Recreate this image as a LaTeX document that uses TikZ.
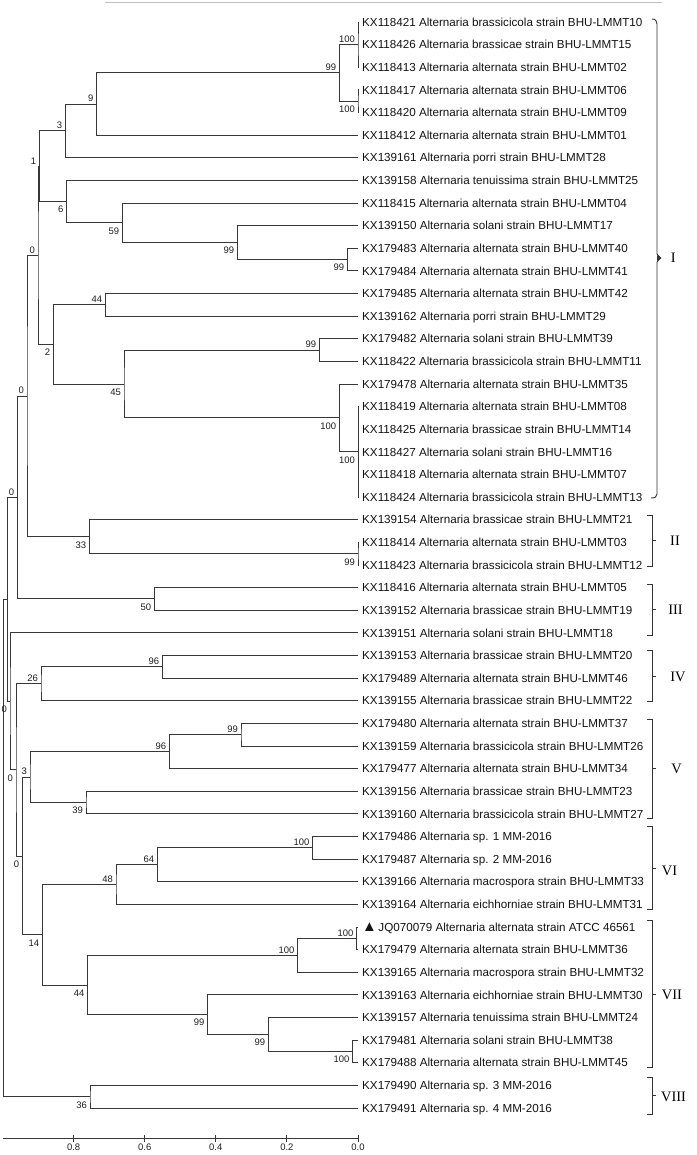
\documentclass[tikz,border=0pt]{standalone}
\usepackage{fontspec}
\setmainfont{Liberation Sans}
\newfontfamily\clfont{Liberation Serif}
\usetikzlibrary{calc}
\tikzset{
  br/.style={draw=black!78, line width=0.9bp},
  brk/.style={draw=black!80, line width=0.9bp},
  leaf/.style={anchor=base west, inner sep=0pt, font=\fontsize{11.7}{13}\selectfont, text=black!92},
  bsa/.style={anchor=south east, inner sep=0pt, font=\fontsize{9.5}{10}\selectfont, xshift=-3bp, yshift=2bp, text=black!88},
  bsb/.style={anchor=north east, inner sep=0pt, font=\fontsize{9.5}{10}\selectfont, xshift=-3bp, yshift=-4.5bp, text=black!88},
  clab/.style={inner sep=0pt, font=\clfont\fontsize{14.5}{16}\selectfont},
  axlab/.style={inner sep=0pt, font=\fontsize{9.5}{10}\selectfont, text=black!88},
}
\newcommand\lf[2]{%
  \pgfmathsetmacro\yy{22+(#1-1)*22.625}
  \coordinate (l#1) at (358,\yy);
  \node[leaf] (t#1) at (362,\yy+4.2) {#2};}
\newcommand\inode[4]{%
  \path let \p1=($(#3)!0.5!(#4)$) in coordinate (#1) at (#2bp,\y1);
  \draw[br] (#3) -| (#1) |- (#4);}
\newcommand\bs[3]{\node[bs#2] (b#1) at (#1) {#3};}
\newcommand\sqbr[6]{% name, ytop, ybot, label, labelx, labely
  \coordinate (#1t) at (646.7,#2);
  \coordinate (#1b) at (646.7,#3);
  \coordinate (#1m) at (652.3,{(#2+#3)/2});
  \draw[brk] (#1t) -- ++(5.6,0) -- ($(#1b)+(5.6,0)$) -- (#1b);
  \draw[brk] (#1m) -- ++(3.8,0);
  \node[clab] (#1l) at (#5,#6) {#4};}
\begin{document}
\begin{tikzpicture}[x=1bp,y=-1bp]
\fill[white] (0,0) rectangle (697,1155);
\useasboundingbox (0,0) rectangle (697,1155);
% top rule
\coordinate (topa) at (105,2.3);
\coordinate (topb) at (662,2.3);
\draw[draw=black!25, line width=0.8bp] (topa) -- (topb);
% leaves
\lf{1}{KX118421 Alternaria brassicicola strain BHU-LMMT10}
\lf{2}{KX118426 Alternaria brassicae strain BHU-LMMT15}
\lf{3}{KX118413 Alternaria alternata strain BHU-LMMT02}
\lf{4}{KX118417 Alternaria alternata strain BHU-LMMT06}
\lf{5}{KX118420 Alternaria alternata strain BHU-LMMT09}
\lf{6}{KX118412 Alternaria alternata strain BHU-LMMT01}
\lf{7}{KX139161 Alternaria porri strain BHU-LMMT28}
\lf{8}{KX139158 Alternaria tenuissima strain BHU-LMMT25}
\lf{9}{KX118415 Alternaria alternata strain BHU-LMMT04}
\lf{10}{KX139150 Alternaria solani strain BHU-LMMT17}
\lf{11}{KX179483 Alternaria alternata strain BHU-LMMT40}
\lf{12}{KX179484 Alternaria alternata strain BHU-LMMT41}
\lf{13}{KX179485 Alternaria alternata strain BHU-LMMT42}
\lf{14}{KX139162 Alternaria porri strain BHU-LMMT29}
\lf{15}{KX179482 Alternaria solani strain BHU-LMMT39}
\lf{16}{KX118422 Alternaria brassicicola strain BHU-LMMT11}
\lf{17}{KX179478 Alternaria alternata strain BHU-LMMT35}
\lf{18}{KX118419 Alternaria alternata strain BHU-LMMT08}
\lf{19}{KX118425 Alternaria brassicae strain BHU-LMMT14}
\lf{20}{KX118427 Alternaria solani strain BHU-LMMT16}
\lf{21}{KX118418 Alternaria alternata strain BHU-LMMT07}
\lf{22}{KX118424 Alternaria brassicicola strain BHU-LMMT13}
\lf{23}{KX139154 Alternaria brassicae strain BHU-LMMT21}
\lf{24}{KX118414 Alternaria alternata strain BHU-LMMT03}
\lf{25}{KX118423 Alternaria brassicicola strain BHU-LMMT12}
\lf{26}{KX118416 Alternaria alternata strain BHU-LMMT05}
\lf{27}{KX139152 Alternaria brassicae strain BHU-LMMT19}
\lf{28}{KX139151 Alternaria solani strain BHU-LMMT18}
\lf{29}{KX139153 Alternaria brassicae strain BHU-LMMT20}
\lf{30}{KX179489 Alternaria alternata strain BHU-LMMT46}
\lf{31}{KX139155 Alternaria brassicae strain BHU-LMMT22}
\lf{32}{KX179480 Alternaria alternata strain BHU-LMMT37}
\lf{33}{KX139159 Alternaria brassicicola strain BHU-LMMT26}
\lf{34}{KX179477 Alternaria alternata strain BHU-LMMT34}
\lf{35}{KX139156 Alternaria brassicae strain BHU-LMMT23}
\lf{36}{KX139160 Alternaria brassicicola strain BHU-LMMT27}
\lf{37}{KX179486 Alternaria sp. 1 MM-2016}
\lf{38}{KX179487 Alternaria sp. 2 MM-2016}
\lf{39}{KX139166 Alternaria macrospora strain BHU-LMMT33}
\lf{40}{KX139164 Alternaria eichhorniae strain BHU-LMMT31}
\lf{41}{{\fontsize{15}{15}\selectfont ▲}\hspace{1.5bp}JQ070079 Alternaria alternata strain ATCC 46561}
\lf{42}{KX179479 Alternaria alternata strain BHU-LMMT36}
\lf{43}{KX139165 Alternaria macrospora strain BHU-LMMT32}
\lf{44}{KX139163 Alternaria eichhorniae strain BHU-LMMT30}
\lf{45}{KX139157 Alternaria tenuissima strain BHU-LMMT24}
\lf{46}{KX179481 Alternaria solani strain BHU-LMMT38}
\lf{47}{KX179488 Alternaria alternata strain BHU-LMMT45}
\lf{48}{KX179490 Alternaria sp. 3 MM-2016}
\lf{49}{KX179491 Alternaria sp. 4 MM-2016}
% clade I
\inode{pa}{358}{l1}{l3}
\draw[br] (pa) |- (l2);
\inode{pb}{358}{l4}{l5}
\inode{nA}{339.3}{pa}{pb}
\inode{nB}{96.7}{nA}{l6}
\inode{nC}{65.3}{nB}{l7}
\inode{nD}{347.3}{l11}{l12}
\inode{nE}{237.3}{l10}{nD}
\inode{nF}{122.3}{l9}{nE}
\inode{nG}{66.7}{l8}{nF}
\inode{nH}{39.3}{nC}{nG}
\inode{nI}{105.3}{l13}{l14}
\inode{nJ}{319.3}{l15}{l16}
\inode{pc}{358}{l18}{l22}
\draw[br] (pc) |- (l19) (pc) |- (l20) (pc) |- (l21);
\inode{nK}{339.3}{l17}{pc}
\inode{nL}{124}{nJ}{nK}
\inode{nM}{53.3}{nI}{nL}
\inode{nN}{38}{nH}{nM}
% clade II
\inode{nO}{358}{l24}{l25}
\inode{nP}{89.3}{l23}{nO}
\inode{nQ}{27}{nN}{nP}
% clade III
\inode{nR}{154.3}{l26}{l27}
\inode{nS}{17.3}{nQ}{nR}
% clade IV
\inode{nT}{162.3}{l29}{l30}
\inode{nU}{41}{nT}{l31}
% clade V
\inode{nV}{241}{l32}{l33}
\inode{nW}{169.3}{nV}{l34}
\inode{nX}{86}{l35}{l36}
\inode{nY}{30}{nW}{nX}
% clade VI
\inode{nZ}{312.7}{l37}{l38}
\inode{mA}{157.3}{nZ}{l39}
\inode{mB}{116}{mA}{l40}
% clade VII
\inode{mC}{356.7}{l41}{l42}
\inode{mD}{297.7}{mC}{l43}
\inode{mE}{352.7}{l46}{l47}
\inode{mF}{268.3}{l45}{mE}
\inode{mG}{207.7}{l44}{mF}
\inode{mH}{87.7}{mD}{mG}
\inode{mI}{42.3}{mB}{mH}
% backbone
\inode{mJ}{22.3}{nY}{mI}
\inode{mK}{16}{nU}{mJ}
\inode{mL}{10}{l28}{mK}
\inode{mM}{7.3}{nS}{mL}
\inode{mN}{90}{l48}{l49}
\inode{root}{3.3}{mM}{mN}
% bootstrap values
\bs{pa}{a}{100}
\bs{pb}{b}{100}
\bs{nA}{a}{99}
\bs{nB}{a}{9}
\bs{nC}{a}{3}
\bs{nD}{b}{99}
\bs{nE}{b}{99}
\bs{nF}{b}{59}
\bs{nG}{b}{6}
\bs{nH}{a}{1}
\bs{nI}{a}{44}
\bs{nJ}{a}{99}
\bs{pc}{b}{100}
\bs{nK}{b}{100}
\bs{nL}{b}{45}
\bs{nM}{b}{2}
\bs{nN}{a}{0}
\bs{nO}{b}{99}
\bs{nP}{b}{33}
\bs{nQ}{a}{0}
\bs{nR}{b}{50}
\bs{nS}{a}{0}
\bs{nT}{a}{96}
\bs{nU}{a}{26}
\bs{nV}{a}{99}
\bs{nW}{a}{96}
\bs{nX}{b}{39}
\bs{nY}{a}{3}
\bs{nZ}{a}{100}
\bs{mA}{a}{64}
\bs{mB}{a}{48}
\bs{mC}{a}{100}
\bs{mD}{a}{100}
\bs{mE}{b}{100}
\bs{mF}{b}{99}
\bs{mG}{b}{99}
\bs{mH}{b}{44}
\bs{mI}{b}{14}
\bs{mJ}{b}{0}
\bs{mK}{b}{0}
\bs{mL}{b}{0}
\bs{mN}{b}{36}
% scale axis
\coordinate (ax0) at (3.3,1138.5);
\coordinate (ax1) at (358,1138.5);
\draw[br] (ax0) -- (ax1);
\foreach \v/\t [count=\i] in {0/0.0,1/0.2,2/0.4,3/0.6,4/0.8}{
  \coordinate (tk\i) at ({358-\v*71.1},1138.5);
  \draw[br] ($(tk\i)+(0,-4)$) -- ($(tk\i)+(0,3)$);
  \node[axlab] (tl\i) at ($(tk\i)+(0,9)$) {\t};
}
% clade I brace
\coordinate (bIa) at (652,19);
\coordinate (bIb) at (651,498);
\draw[brk] (bIa) .. controls (655.5,19) and (657,21) .. (657,24) -- (657,254) -- (660.5,258) -- (657,262) -- (657,494) .. controls (657,497) and (655,498) .. (bIb);
\fill[black!80] (657,255) -- (661.5,258) -- (657,261) -- cycle;
\node[clab] (cI) at (673.3,258) {I};
% other clades
\sqbr{cII}{515}{566.7}{II}{675}{540.5}
\sqbr{cIII}{584.3}{635}{III}{675.5}{610}
\sqbr{cIV}{650.7}{701.7}{IV}{678}{676.5}
\sqbr{cV}{719.3}{818.3}{V}{676.5}{769}
\sqbr{cVI}{826.7}{909.3}{VI}{669.5}{870.5}
\sqbr{cVII}{920.7}{1067.7}{VII}{672}{995}
\sqbr{cVIII}{1077.3}{1114}{VIII}{673.5}{1096.5}
\end{tikzpicture}
\end{document}
